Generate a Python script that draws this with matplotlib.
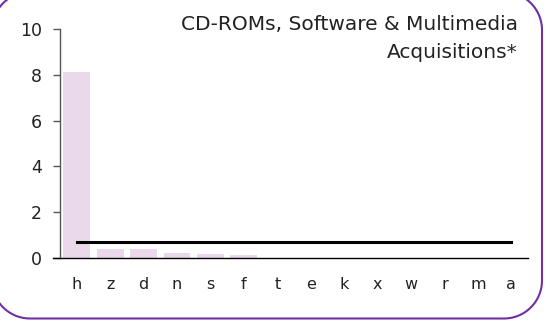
import matplotlib.pyplot as plt
from matplotlib.lines import Line2D
import numpy as np

categories = ['h', 'z', 'd', 'n', 's', 'f', 't', 'e', 'k', 'x', 'w', 'r', 'm', 'a']
values = [8.12, 0.38, 0.38, 0.22, 0.17, 0.12, 0, 0, 0, 0, 0, 0, 0, 0]
average = [0.7] * len(categories)
title_lines = ['CD-ROMs, Software & Multimedia', 'Acquisitions*']

plt.rcParams['font.family'] = ['DejaVu Sans']

W, H = 552, 325
fig = plt.figure(figsize=(W / 100, H / 100), dpi=100)
ax = fig.add_axes([60 / W, 1 - 258 / H, 468 / W, 229 / H])

x = np.arange(len(categories))
ax.bar(x, values, width=0.8, color='#e9d9eb', zorder=1)
ax.plot(x, average, color='black', lw=2.2, zorder=3)

ax.set_xlim(-0.5, len(categories) - 0.5)
ax.set_ylim(0, 10)
ax.set_yticks([0, 2, 4, 6, 8, 10])
ax.set_xticks(x)
ax.set_xticklabels(categories)

for s in ['top', 'right', 'bottom']:
    ax.spines[s].set_visible(False)
ax.spines['left'].set_color('#555555')
ax.spines['left'].set_linewidth(1.0)
# x axis line reaches under the y ticks
ax.plot([-0.015, 1.0], [0, 0], transform=ax.transAxes, color='black', lw=1.0, clip_on=False, zorder=4)

ax.tick_params(axis='y', length=5, width=1.0, color='#555555', pad=8, labelsize=12.5, labelcolor='#222222')
ax.tick_params(axis='x', length=0, pad=14, labelsize=11.5, labelcolor='#222222')

for i, line in enumerate(title_lines):
    fig.text(518 / W, 1 - (25 + 27 * i) / H, line, ha='right', va='center', fontsize=14.5,
             color='#222222')

# rounded frame as a polyline (inches), partly off the canvas on top/left
x0, x1, y0, y1, r = -0.08, 5.42, 0.065, 3.33, 0.38
corners = [(x0 + r, y1 - r, 90, 180), (x0 + r, y0 + r, 180, 270),
           (x1 - r, y0 + r, 270, 360), (x1 - r, y1 - r, 0, 90)]
fx, fy = [], []
for cx, cy, a0, a1 in corners:
    t = np.radians(np.linspace(a0, a1, 30))
    fx.extend(cx + r * np.cos(t))
    fy.extend(cy + r * np.sin(t))
fx.append(fx[0])
fy.append(fy[0])
fig.add_artist(Line2D(fx, fy, transform=fig.dpi_scale_trans, color='#7030a0', lw=1.5,
                      solid_joinstyle='round'))

fig.savefig('out.png', dpi=100)
